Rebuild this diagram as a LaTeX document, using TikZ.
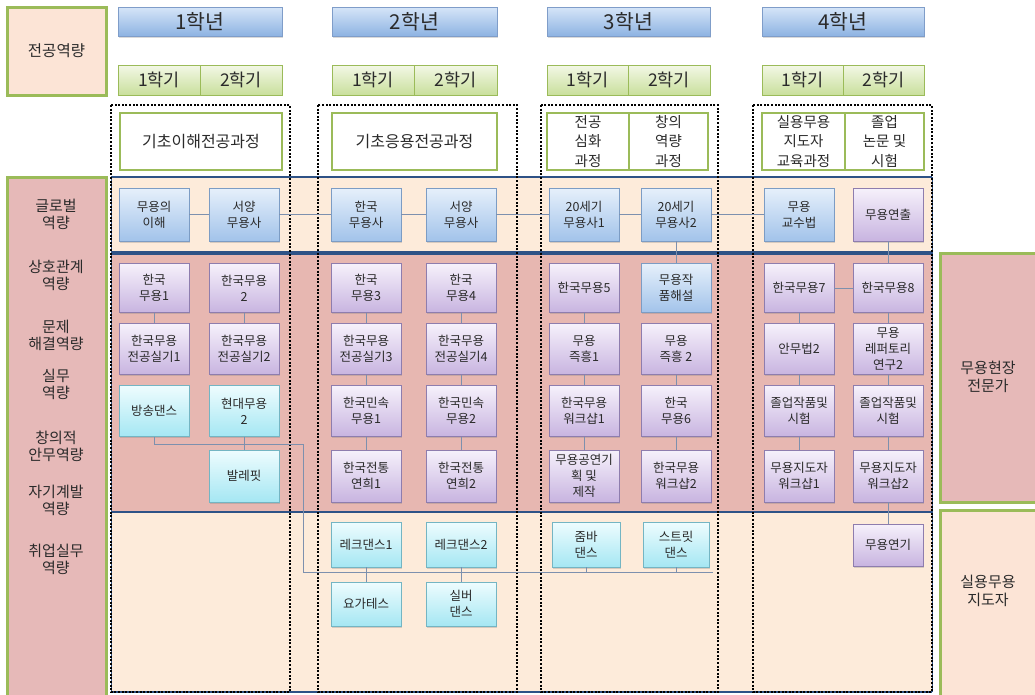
\documentclass[tikz,border=0pt]{standalone}
\usepackage{fontspec}
\setmainfont{Noto Sans CJK KR}
\usetikzlibrary{shadows}
\definecolor{navy}{HTML}{2E5286}
\definecolor{grnB}{HTML}{9BBB59}
\definecolor{peachA}{HTML}{FDEBDA}
\definecolor{pinkA}{HTML}{E7B7B1}
\definecolor{pinkL}{HTML}{E6B9B8}
\definecolor{peachL}{HTML}{FCE4D6}
\definecolor{blT}{HTML}{E6F0FB}
\definecolor{blB}{HTML}{A2C3EA}
\definecolor{blD}{HTML}{7C9CC4}
\definecolor{puT}{HTML}{F6F1FB}
\definecolor{puB}{HTML}{C8B4E0}
\definecolor{puD}{HTML}{8E7DAE}
\definecolor{cyT}{HTML}{EEFCFE}
\definecolor{cyB}{HTML}{A5E7F3}
\definecolor{cyD}{HTML}{74B5C3}
\definecolor{yrT}{HTML}{D6E5F8}
\definecolor{yrB}{HTML}{8DB3E2}
\definecolor{yrD}{HTML}{7F9DC9}
\definecolor{smT}{HTML}{F3F8E6}
\definecolor{smB}{HTML}{C9DF9C}
\definecolor{cn}{HTML}{7D90AE}
\definecolor{txt}{HTML}{2A2A2A}
\tikzset{
  shd/.style={drop shadow={shadow xshift=1.2pt, shadow yshift=-1.5pt, opacity=0.3}},
  crs/.style={draw, rectangle, shd, minimum width=70pt, inner sep=1pt, align=center,
    font=\fontsize{12.5}{16}\selectfont, text=txt, line width=0.8pt},
  bl/.style={top color=blT, bottom color=blB, draw=blD},
  pu/.style={top color=puT, bottom color=puB, draw=puD},
  cy/.style={top color=cyT, bottom color=cyB, draw=cyD},
  yr/.style={draw=yrD, line width=0.8pt, top color=yrT, bottom color=yrB, shd,
    minimum width=164pt, minimum height=29pt, inner sep=0pt, font=\fontsize{20.5}{22}\selectfont, text=txt},
  sem/.style={draw=grnB, line width=0.8pt, top color=smT, bottom color=smB,
    minimum height=30pt, inner sep=0pt, font=\fontsize{17.5}{20}\selectfont, text=txt},
  ctype/.style={draw=grnB, line width=2.6pt, fill=white, minimum height=57pt, inner sep=0pt,
    align=center, text=txt},
  lbl/.style={align=center, font=\fontsize{15}{17}\selectfont, text=txt, inner sep=0pt},
  conn/.style={draw=cn, line width=1pt},
  dotframe/.style={draw=black, line width=2pt, dash pattern=on 2pt off 1.6pt},
}
\begin{document}
\begin{tikzpicture}[x=1pt,y=-1pt]
\useasboundingbox (0,0) rectangle (1035,694);

% left boxes
\draw[grnB, line width=3pt, fill=peachL] (7,7) rectangle (106,95);
\node[lbl, font=\fontsize{15.5}{18}\selectfont] (jg) at (56.5,51) {전공역량};
\draw[grnB, line width=3pt, fill=pinkL] (7,177) rectangle (106,705);
\node[lbl] (L1) at (56,214) {글로벌\\역량};
\node[lbl] (L2) at (56,275) {상호관계\\역량};
\node[lbl] (L3) at (56,335) {문제\\해결역량};
\node[lbl] (L4) at (56,384) {실무\\역량};
\node[lbl] (L5) at (56,446) {창의적\\안무역량};
\node[lbl] (L6) at (56,500) {자기계발\\역량};
\node[lbl] (L7) at (56,559) {취업실무\\역량};

% right boxes
\draw[grnB, line width=3pt, fill=pinkL] (940,253) rectangle (1045,502);
\node[lbl, font=\fontsize{15}{17.5}\selectfont] (R1) at (988,377) {무용현장\\전문가};
\draw[grnB, line width=3pt, fill=peachL] (940,510) rectangle (1045,705);
\node[lbl, font=\fontsize{15}{17.5}\selectfont] (R2) at (988,591) {실용무용\\지도자};

% year headers
\node[yr] (y1) at (200,21.5) {1학년};
\node[yr, minimum width=165pt] (y2) at (414.5,21.5) {2학년};
\node[yr, minimum width=163pt] (y3) at (628.5,21.5) {3학년};
\node[yr, minimum width=162pt] (y4) at (843,21.5) {4학년};

% semesters
\node[sem, minimum width=82pt] (s11) at (159,80) {1학기};
\node[sem, minimum width=82pt] (s12) at (241,80) {2학기};
\node[sem, minimum width=82pt] (s21) at (373,80) {1학기};
\node[sem, minimum width=83pt] (s22) at (455.5,80) {2학기};
\node[sem, minimum width=81pt] (s31) at (587.5,80) {1학기};
\node[sem, minimum width=82pt] (s32) at (669,80) {2학기};
\node[sem, minimum width=81pt] (s41) at (802.5,80) {1학기};
\node[sem, minimum width=81pt] (s42) at (883.5,80) {2학기};

% bands
\fill[peachA] (111,177) rectangle (932,253);
\fill[pinkA] (111,253) rectangle (932,512);
\fill[peachA] (111,512) rectangle (932,692);
\draw[navy, line width=1pt] (111,177) -- (111,692);
\draw[navy, line width=1pt] (932,177) -- (932,692);
\draw[navy, line width=2.5pt] (111,177) -- (932,177);
\draw[navy, line width=4.5pt] (111,253) -- (932,253);
\draw[navy, line width=2pt] (111,512) -- (932,512);
\draw[navy, line width=2pt] (111,692) -- (932,692);

% course types
\node[ctype, minimum width=162pt, font=\fontsize{16}{19}\selectfont] (t1) at (201,141.5) {기초이해전공과정};
\node[ctype, minimum width=165pt, font=\fontsize{16}{19}\selectfont] (t2) at (414.5,141.5) {기초응용전공과정};
\node[ctype, minimum width=82pt, font=\fontsize{14.5}{19.5}\selectfont] (t3a) at (588,141.5) {전공\\심화\\과정};
\node[ctype, minimum width=79pt, font=\fontsize{14.5}{19.5}\selectfont] (t3b) at (668.5,141.5) {창의\\역량\\과정};
\node[ctype, minimum width=83pt, font=\fontsize{14.5}{19.5}\selectfont] (t4a) at (803.5,141.5) {실용무용\\지도자\\교육과정};
\node[ctype, minimum width=79pt, font=\fontsize{14.5}{19.5}\selectfont] (t4b) at (884.5,141.5) {졸업\\논문 및\\시험};

% dotted frames
\draw[dotframe] (111,105) rectangle (290,692);
\draw[dotframe] (318,105) rectangle (517,692);
\draw[dotframe] (541,105) rectangle (718,692);
\draw[dotframe] (753,105) rectangle (932,692);

% row 1
\begin{scope}[every node/.append style={minimum height=53pt}]
\node[crs,bl] (g1) at (154,214.5) {무용의\\이해};
\node[crs,bl] (g2) at (244,214.5) {서양\\무용사};
\node[crs,bl] (g3) at (366,214.5) {한국\\무용사};
\node[crs,bl] (g4) at (461,214.5) {서양\\무용사};
\node[crs,bl] (g5) at (584,214.5) {20세기\\무용사1};
\node[crs,bl] (g6) at (676,214.5) {20세기\\무용사2};
\node[crs,bl] (g7) at (799,214.5) {무용\\교수법};
\node[crs,pu] (g8) at (888,214.5) {무용연출};
\end{scope}
% row 2
\begin{scope}[every node/.append style={minimum height=49pt}]
\node[crs,pu] (a1) at (154,288) {한국\\무용1};
\node[crs,pu] (a2) at (244,288) {한국무용\\2};
\node[crs,pu] (a3) at (366,288) {한국\\무용3};
\node[crs,pu] (a4) at (461,288) {한국\\무용4};
\node[crs,pu] (a5) at (584,288) {한국무용5};
\node[crs,bl] (a6) at (676,288) {무용작\\품해설};
\node[crs,pu] (a7) at (799,288) {한국무용7};
\node[crs,pu] (a8) at (888,288) {한국무용8};
\end{scope}
% row 3
\begin{scope}[every node/.append style={minimum height=51pt}]
\node[crs,pu] (b1) at (154,349) {한국무용\\전공실기1};
\node[crs,pu] (b2) at (244,349) {한국무용\\전공실기2};
\node[crs,pu] (b3) at (366,349) {한국무용\\전공실기3};
\node[crs,pu] (b4) at (461,349) {한국무용\\전공실기4};
\node[crs,pu] (b5) at (584,349) {무용\\즉흥1};
\node[crs,pu] (b6) at (676,349) {무용\\즉흥 2};
\node[crs,pu] (b7) at (799,349) {안무법2};
\node[crs,pu] (b8) at (888,349) {무용\\레퍼토리\\연구2};
\end{scope}
% row 4
\begin{scope}[every node/.append style={minimum height=51pt}]
\node[crs,cy] (c1) at (154,411) {방송댄스};
\node[crs,cy] (c2) at (244,411) {현대무용\\2};
\node[crs,pu] (c3) at (366,411) {한국민속\\무용1};
\node[crs,pu] (c4) at (461,411) {한국민속\\무용2};
\node[crs,pu] (c5) at (584,411) {한국무용\\워크샵1};
\node[crs,pu] (c6) at (676,411) {한국\\무용6};
\node[crs,pu] (c7) at (799,411) {졸업작품및\\시험};
\node[crs,pu] (c8) at (888,411) {졸업작품및\\시험};
\end{scope}
% row 5
\begin{scope}[every node/.append style={minimum height=52pt}]
\node[crs,cy] (d2) at (244,476) {발레핏};
\node[crs,pu] (d3) at (366,476) {한국전통\\연희1};
\node[crs,pu] (d4) at (461,476) {한국전통\\연희2};
\node[crs,pu] (d5) at (584,476) {무용공연기\\획 및\\제작};
\node[crs,pu] (d6) at (676,476) {한국무용\\워크샵2};
\node[crs,pu] (d7) at (799,476) {무용지도자\\워크샵1};
\node[crs,pu] (d8) at (888,476) {무용지도자\\워크샵2};
\end{scope}
% row 6-7
\begin{scope}[every node/.append style={minimum height=45pt}]
\node[crs,cy] (e3) at (366,544.5) {레크댄스1};
\node[crs,cy] (e4) at (461,544.5) {레크댄스2};
\node[crs,cy, minimum width=68pt] (e5) at (586,544.5) {줌바\\댄스};
\node[crs,cy, minimum width=66pt] (e6) at (676,544.5) {스트릿\\댄스};
\node[crs,pu, minimum height=42pt] (e8) at (888,545) {무용연기};
\node[crs,cy, minimum height=44pt] (f3) at (366,604) {요가테스};
\node[crs,cy, minimum height=44pt] (f4) at (461,604) {실버\\댄스};
\end{scope}

% connectors
\draw[conn] (g1) -- (g2) -- (g3) -- (g4) -- (g5) -- (g6) -- (g7);
\draw[conn] (g6) -- (a6);
\draw[conn] (g8) -- (a8);
\draw[conn] (a7) -- (a8);
\draw[conn] (a1) -- (b1);
\draw[conn] (a2) -- (b2);
\draw[conn] (c2) -- (d2);
\draw[conn] (a3) -- (b3) -- (c3) -- (d3);
\draw[conn] (a4) -- (b4) -- (c4) -- (d4);
\draw[conn] (a5) -- (b5) -- (c5) -- (d5);
\draw[conn] (b6) -- (c6) -- (d6);
\draw[conn] (a7) -- (b7) -- (c7) -- (d7);
\draw[conn] (a8) -- (b8) -- (c8) -- (d8) -- (e8);
\coordinate (busA) at (303,444);
\coordinate (busB) at (303,572);
\coordinate (busC) at (713,572);
\draw[conn] (c1.south) |- (busA) -- (busB) -- (busC);
\draw[conn] (e3) -- (f3);
\draw[conn] (e4) -- (f4);
\draw[conn] (e5.south) -- (e5.south |- busC);
\draw[conn] (e6.south) -- (e6.south |- busC);
\end{tikzpicture}
\end{document}
